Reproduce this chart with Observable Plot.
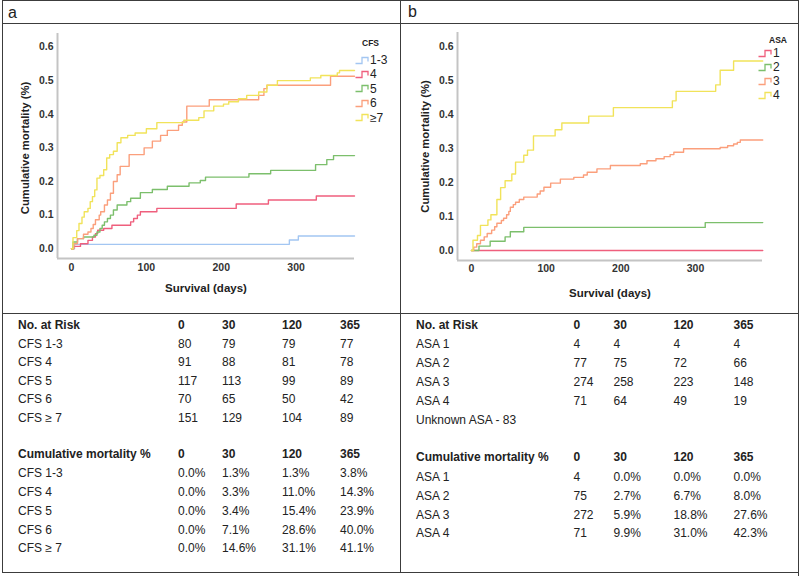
<!DOCTYPE html>
<html><head><meta charset="utf-8">
<script src="https://cdn.jsdelivr.net/npm/d3@7"></script>
<script src="https://cdn.jsdelivr.net/npm/@observablehq/plot@0.6"></script>
<style>
body{margin:0;background:#fff;}
#root{position:relative;width:800px;height:576px;overflow:hidden;font-family:"Liberation Sans",Arial,sans-serif;color:#222;}
.ln{position:absolute;background:#3c3c3c;}
.t{position:absolute;font-size:12px;line-height:14px;white-space:nowrap;color:#222;}
.b{font-weight:bold;}
.lg{position:absolute;font-size:12px;line-height:12px;white-space:nowrap;color:#222;display:flex;align-items:center;}
.lgt{position:absolute;font-size:8.5px;font-weight:bold;line-height:10px;color:#222;}
.plot{position:absolute;}
</style></head>
<body><div id="root"></div>
<script>
// ---------- data ----------
const cfsNames = ["1-3", "4", "5", "6", "≥7"];
const asaNames = ["1", "2", "3", "4"];
const seriesColors = ["#a3c6f2", "#ef5f7d", "#7cbf6c", "#fb9f7c", "#f1e35a"];
const asaColors = ["#ef5f7d", "#7cbf6c", "#fb9f7c", "#f1e35a"];
const xTicks = [0, 100, 200, 300];
const yTicks = [0, 0.1, 0.2, 0.3, 0.4, 0.5, 0.6];

// Kaplan–Meier step points [day, cumulative mortality]
const cfs13 = [[0,0],[4,0.013],[291,0.026],[303,0.038],[378,0.038]];
const cfs4 = [[0,0],[3,0.007],[12,0.015],[22,0.025],[28,0.035],[32,0.045],[35,0.055],[43,0.06],[54,0.07],[79,0.08],[83,0.09],[88,0.1],[92,0.11],[114,0.12],[220,0.133],[263,0.145],[327,0.157],[378,0.157]];
const cfs5 = [[0,0],[2,0.02],[8,0.03],[16,0.035],[30,0.04],[34,0.05],[38,0.06],[41,0.07],[44,0.08],[48,0.09],[52,0.1],[56,0.115],[61,0.13],[74,0.14],[79,0.15],[92,0.167],[108,0.176],[128,0.186],[157,0.196],[172,0.203],[179,0.213],[237,0.223],[266,0.233],[326,0.25],[341,0.265],[350,0.277],[378,0.277]];
const cfs6 = [[0,0],[3,0.015],[8,0.03],[16,0.043],[22,0.05],[26,0.06],[29,0.072],[32,0.086],[37,0.1],[39,0.11],[44,0.13],[48,0.145],[52,0.165],[56,0.2],[61,0.22],[65,0.245],[77,0.28],[97,0.3],[108,0.32],[119,0.337],[128,0.352],[143,0.367],[148,0.377],[154,0.424],[184,0.443],[250,0.456],[257,0.476],[261,0.486],[346,0.513],[378,0.513]];
const cfs7 = [[0,0],[2,0.033],[7,0.054],[10,0.075],[14,0.094],[17,0.11],[22,0.12],[25,0.14],[28,0.155],[31,0.175],[34,0.21],[38,0.218],[43,0.235],[47,0.27],[51,0.28],[56,0.29],[61,0.315],[66,0.33],[75,0.337],[85,0.344],[100,0.357],[114,0.375],[150,0.382],[170,0.39],[177,0.41],[190,0.424],[203,0.43],[210,0.437],[223,0.446],[234,0.456],[250,0.466],[261,0.486],[275,0.5],[319,0.508],[333,0.515],[355,0.523],[358,0.53],[378,0.53]];

const asa1 = [[0,0],[390,0]];
const asa2 = [[0,0],[10,0.013],[25,0.027],[45,0.04],[52,0.055],[70,0.068],[313,0.082],[390,0.082]];
const asa3 = [[0,0],[3,0.01],[7,0.02],[12,0.03],[17,0.04],[21,0.05],[27,0.06],[31,0.07],[34,0.08],[40,0.088],[43,0.095],[47,0.105],[50,0.115],[52,0.127],[56,0.135],[59,0.142],[64,0.15],[70,0.157],[88,0.166],[92,0.175],[97,0.186],[106,0.198],[119,0.21],[137,0.215],[150,0.222],[155,0.23],[168,0.24],[186,0.25],[226,0.255],[235,0.264],[247,0.27],[258,0.276],[266,0.282],[271,0.289],[284,0.299],[333,0.303],[343,0.308],[351,0.313],[356,0.318],[360,0.325],[390,0.325]];
const asa4 = [[0,0],[2,0.03],[8,0.044],[12,0.074],[22,0.09],[26,0.105],[34,0.15],[39,0.185],[45,0.205],[54,0.225],[59,0.26],[70,0.28],[75,0.295],[83,0.337],[112,0.355],[121,0.375],[157,0.395],[190,0.42],[269,0.44],[274,0.468],[327,0.487],[333,0.53],[351,0.557],[390,0.557]];

// tables
const timePoints = ["0", "30", "120", "365"];
const cfsRowLabels = ["CFS 1-3", "CFS 4", "CFS 5", "CFS 6", "CFS ≥ 7"];
const cfsRisk = [[80,79,79,77],[91,88,81,78],[117,113,99,89],[70,65,50,42],[151,129,104,89]];
const cfsMort = [["0.0%","1.3%","1.3%","3.8%"],["0.0%","3.3%","11.0%","14.3%"],["0.0%","3.4%","15.4%","23.9%"],["0.0%","7.1%","28.6%","40.0%"],["0.0%","14.6%","31.1%","41.1%"]];
const asaRowLabels = ["ASA 1", "ASA 2", "ASA 3", "ASA 4"];
const asaRisk = [[4,4,4,4],[77,75,72,66],[274,258,223,148],[71,64,49,19]];
const asaMort = [["4","0.0%","0.0%","0.0%"],["75","2.7%","6.7%","8.0%"],["272","5.9%","18.8%","27.6%"],["71","9.9%","31.0%","42.3%"]];
const unknownNote = "Unknown ASA - 83";

// ---------- drawing ----------
const root = document.getElementById("root");
function el(cls, html, left, top, extra) {
  const d = document.createElement("div");
  d.className = cls; d.innerHTML = html;
  d.style.left = left + "px"; d.style.top = top + "px";
  if (extra) Object.assign(d.style, extra);
  root.appendChild(d); return d;
}

function km(names, pts, colors, o) {
  const data = names.flatMap((n, i) => pts[i].map(([t, v]) => ({t, v, g: n})));
  return Plot.plot({
    width: 400, height: 289,
    marginLeft: 57, marginRight: o.mr, marginTop: o.mt, marginBottom: o.mb,
    style: {background: "transparent", fontFamily: "Liberation Sans, Arial, sans-serif"},
    x: {domain: o.xd},
    y: {domain: o.yd},
    color: {domain: names, range: colors},
    marks: [
      Plot.ruleX([o.xd[0]], {stroke: "#c4c4c4", strokeWidth: 2}),
      Plot.ruleY([o.yd[0]], {stroke: "#c4c4c4", strokeWidth: 2}),
      Plot.axisX({ticks: xTicks, tickSize: 0, tickPadding: o.tp, label: null, fontWeight: "bold", fontSize: 10.5, fill: "#333"}),
      Plot.axisY({ticks: yTicks, tickSize: 0, tickPadding: 4, tickFormat: d3.format(".1f"), label: null, fontWeight: "bold", fontSize: 10.5, fill: "#333"}),
      Plot.line(data, {x: "t", y: "v", z: "g", stroke: "g", curve: "step-after", strokeWidth: 1.4}),
      Plot.text(["Cumulative mortality (%)"], {text: d => d, frameAnchor: "left", textAnchor: "middle", lineAnchor: "middle", rotate: -90, dx: -32, dy: o.ly, fontWeight: "bold", fontSize: 11.3, fill: "#222"}),
      Plot.text(["Survival (days)"], {text: d => d, frameAnchor: "bottom", textAnchor: "middle", lineAnchor: "middle", dy: o.xl, fontWeight: "bold", fontSize: 11.5, fill: "#222"})
    ]
  });
}

const pa = km(cfsNames, [cfs13, cfs4, cfs5, cfs6, cfs7], seriesColors, {mr: 46, mt: 9, mb: 55, xd: [-18.7, 378], yd: [-0.029, 0.64], tp: 5, xl: 30, ly: 2});
pa.classList.add("plot"); pa.style.left = "0px"; pa.style.top = "24px"; root.appendChild(pa);
const pb = km(asaNames, [asa1, asa2, asa3, asa4], asaColors, {mr: 38, mt: 8, mb: 53, xd: [-18.75, 389.7], yd: [-0.0294, 0.641], tp: 4, xl: 33, ly: 0});
pb.classList.add("plot"); pb.style.left = "400px"; pb.style.top = "24px"; root.appendChild(pb);

// legends
function legend(title, names, colors, tx, ty, ix, y0, step) {
  el("lgt", title, tx, ty - 5);
  names.forEach((n, i) => {
    const svg = `<svg width="14" height="9" style="margin-right:1px"><path d="M0.5,7.5H7V1.5H13V5.5" fill="none" stroke="${colors[i]}" stroke-width="1.3"/></svg>`;
    el("lg", svg + `<span>${n}</span>`, ix, y0 + i * step - 6);
  });
}
legend("CFS", cfsNames, seriesColors, 362, 43, 355, 60, 14.4);
legend("ASA", asaNames, asaColors, 769, 39.5, 758, 53.3, 13.9);

// panel letters
el("t", "a", 8, 4, {fontSize: "16px", lineHeight: "18px"});
el("t", "b", 408, 3, {fontSize: "16px", lineHeight: "18px"});

// tables
function table(lx, cols, hy, y0, step, labels, rows, hdr) {
  el("t b", hdr, lx, hy - 7);
  timePoints.forEach((tp, j) => el("t b", tp, cols[j], hy - 7));
  labels.forEach((lab, i) => {
    const y = y0 + i * step - 7;
    el("t", lab, lx, y);
    rows[i].forEach((v, j) => el("t", String(v), cols[j], y));
  });
}
const colsA = [178, 222, 282, 340];
const colsB = [573.5, 613.5, 673.5, 733.5];
table(18, colsA, 325, 344, 18.4, cfsRowLabels, cfsRisk, "No. at Risk");
table(18, colsA, 454.3, 473.3, 18.75, cfsRowLabels, cfsMort, "Cumulative mortality %");
table(416, colsB, 325, 344, 19, asaRowLabels, asaRisk, "No. at Risk");
el("t", unknownNote, 416, 420 - 7);
table(416, colsB, 456.7, 477.3, 18.7, asaRowLabels, asaMort, "Cumulative mortality %");

// frame lines
el("ln", "", 2, 0, {width: "797px", height: "1px"});
el("ln", "", 2, 23, {width: "797px", height: "1px"});
el("ln", "", 2, 313, {width: "797px", height: "1px"});
el("ln", "", 2, 572, {width: "797px", height: "1px"});
el("ln", "", 2, 0, {width: "1px", height: "573px"});
el("ln", "", 400, 0, {width: "1px", height: "573px"});
el("ln", "", 798, 0, {width: "1px", height: "576px"});
</script></body></html>
